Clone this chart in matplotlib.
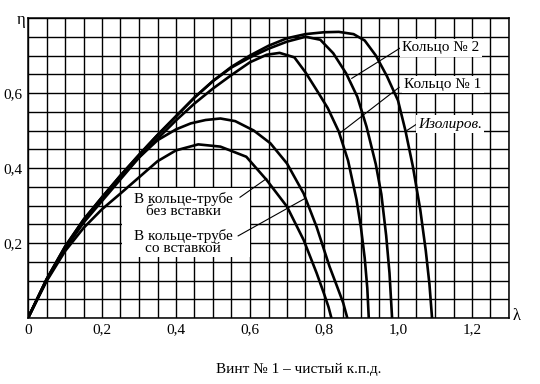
import numpy as np
import matplotlib
matplotlib.use('Agg')
import matplotlib.pyplot as plt
from matplotlib.patches import Rectangle

plt.rcParams['font.family'] = ['Liberation Serif', 'DejaVu Serif']

# curves: lambda -> eta
lam_izol = [0, 0.05, 0.1, 0.15, 0.2, 0.25, 0.3, 0.35, 0.4, 0.45, 0.5, 0.55, 0.6, 0.65, 0.7,
            0.75, 0.8, 0.84, 0.88, 0.91, 0.94, 0.97, 1.0, 1.02, 1.04, 1.06, 1.075, 1.085, 1.092]
eta_izol = [0, 0.103, 0.19, 0.262, 0.322, 0.38, 0.435, 0.488, 0.538, 0.588, 0.632, 0.67, 0.7,
            0.726, 0.746, 0.757, 0.762, 0.763, 0.757, 0.74, 0.70, 0.645, 0.58, 0.50, 0.405,
            0.29, 0.18, 0.09, 0.0]

lam_ring2 = [0, 0.05, 0.1, 0.15, 0.2, 0.25, 0.3, 0.35, 0.4, 0.45, 0.5, 0.55, 0.6, 0.65, 0.7,
             0.75, 0.79, 0.825, 0.86, 0.89, 0.915, 0.94, 0.955, 0.968, 0.977, 0.984]
eta_ring2 = [0, 0.103, 0.19, 0.262, 0.322, 0.38, 0.435, 0.488, 0.538, 0.588, 0.632, 0.668,
             0.695, 0.718, 0.737, 0.75, 0.742, 0.706, 0.652, 0.59, 0.51, 0.41, 0.33, 0.22,
             0.12, 0.0]

lam_ring1 = [0, 0.05, 0.1, 0.15, 0.2, 0.25, 0.3, 0.35, 0.4, 0.45, 0.5, 0.55, 0.6, 0.645, 0.68,
             0.72, 0.75, 0.78, 0.81, 0.84, 0.865, 0.888, 0.9, 0.91, 0.917, 0.921]
eta_ring1 = [0, 0.102, 0.187, 0.258, 0.318, 0.375, 0.428, 0.478, 0.527, 0.572, 0.612, 0.648,
             0.682, 0.702, 0.707, 0.695, 0.655, 0.608, 0.56, 0.497, 0.42, 0.315, 0.24, 0.16,
             0.08, 0.0]

lam_bez = [0, 0.05, 0.1, 0.15, 0.2, 0.25, 0.3, 0.35, 0.4, 0.44, 0.48, 0.52, 0.56, 0.61, 0.655,
           0.7, 0.745, 0.78, 0.815, 0.835, 0.852, 0.863]
eta_bez = [0, 0.1, 0.184, 0.254, 0.312, 0.37, 0.428, 0.474, 0.503, 0.519, 0.528, 0.532, 0.525,
           0.50, 0.466, 0.412, 0.332, 0.243, 0.137, 0.085, 0.04, 0.0]

lam_so = [0, 0.05, 0.1, 0.15, 0.2, 0.25, 0.3, 0.35, 0.4, 0.46, 0.52, 0.59, 0.645, 0.7, 0.745,
          0.78, 0.8, 0.812, 0.82]
eta_so = [0, 0.098, 0.178, 0.24, 0.29, 0.332, 0.375, 0.418, 0.447, 0.463, 0.457, 0.43, 0.368,
          0.297, 0.208, 0.12, 0.065, 0.03, 0.0]

x_ticks = [0, 0.2, 0.4, 0.6, 0.8, 1.0, 1.2]
x_labels = ['0', '0,2', '0,4', '0,6', '0,8', '1,0', '1,2']
y_ticks = [0.2, 0.4, 0.6]
y_labels = ['0,2', '0,4', '0,6']

fig = plt.figure(figsize=(5.4, 3.84), dpi=100)
ax = fig.add_axes([28 / 540, 1 - 318 / 384, 481 / 540, 300 / 384])
ax.set_xlim(0, 1.3)
ax.set_ylim(0, 0.8)

ax.set_xticks(np.arange(0, 1.3001, 0.05), minor=True)
ax.set_yticks(np.arange(0, 0.8001, 0.05), minor=True)
ax.set_xticks(x_ticks)
ax.set_xticklabels(x_labels)
ax.set_yticks(y_ticks)
ax.set_yticklabels(y_labels)
ax.tick_params(which='both', length=0, labelsize=11, pad=4)
ax.grid(True, which='both', color='black', lw=1.0)
ax.set_axisbelow(True)
for s in ax.spines.values():
    s.set_linewidth(1.1)

# white field behind the left labels
ax.add_patch(Rectangle((0.255, 0.163), 0.345, 0.185, facecolor='white',
                       edgecolor='none', zorder=1.5))

for lam, eta in [(lam_izol, eta_izol), (lam_ring2, eta_ring2), (lam_ring1, eta_ring1),
                 (lam_bez, eta_bez), (lam_so, eta_so)]:
    ax.plot(lam, eta, color='black', lw=1.9, zorder=3, solid_capstyle='round')

box = dict(facecolor='white', edgecolor='none', pad=1.5)
ax.text(1.012, 0.72, 'Кольцо № 2', fontsize=11, va='center', ha='left', bbox=box, zorder=4)
ax.text(1.017, 0.622, 'Кольцо № 1', fontsize=11, va='center', ha='left', bbox=box, zorder=4)
ax.text(1.055, 0.517, 'Изолиров.', fontsize=11, style='italic', va='center', ha='left',
        bbox=box, zorder=4)
ax.text(0.419, 0.302, 'В кольце-трубе\nбез вставки', fontsize=11, ha='center', va='center',
        linespacing=0.95, zorder=4)
ax.text(0.419, 0.203, 'В кольце-трубе\nсо вставкой', fontsize=11, ha='center', va='center',
        linespacing=0.95, zorder=4)

# leader lines
leaders = [((1.006, 0.72), (0.875, 0.639)),
           ((1.003, 0.615), (0.843, 0.493)),
           ((1.055, 0.52), (1.024, 0.50)),
           ((0.573, 0.322), (0.645, 0.372)),
           ((0.568, 0.219), (0.749, 0.319))]
for (x0, y0), (x1, y1) in leaders:
    ax.plot([x0, x1], [y0, y1], color='black', lw=0.8, zorder=3.5)

fig.text(21 / 540, 1 - 20 / 384, 'η', fontsize=12, ha='center', va='center', zorder=10)
fig.text(517 / 540, 1 - 316 / 384, 'λ', fontsize=12, ha='center', va='center')
fig.text(299 / 540, 1 - 370 / 384, 'Винт № 1 – чистый к.п.д.', fontsize=11,
         ha='center', va='center')

fig.savefig('out.png', dpi=100)
